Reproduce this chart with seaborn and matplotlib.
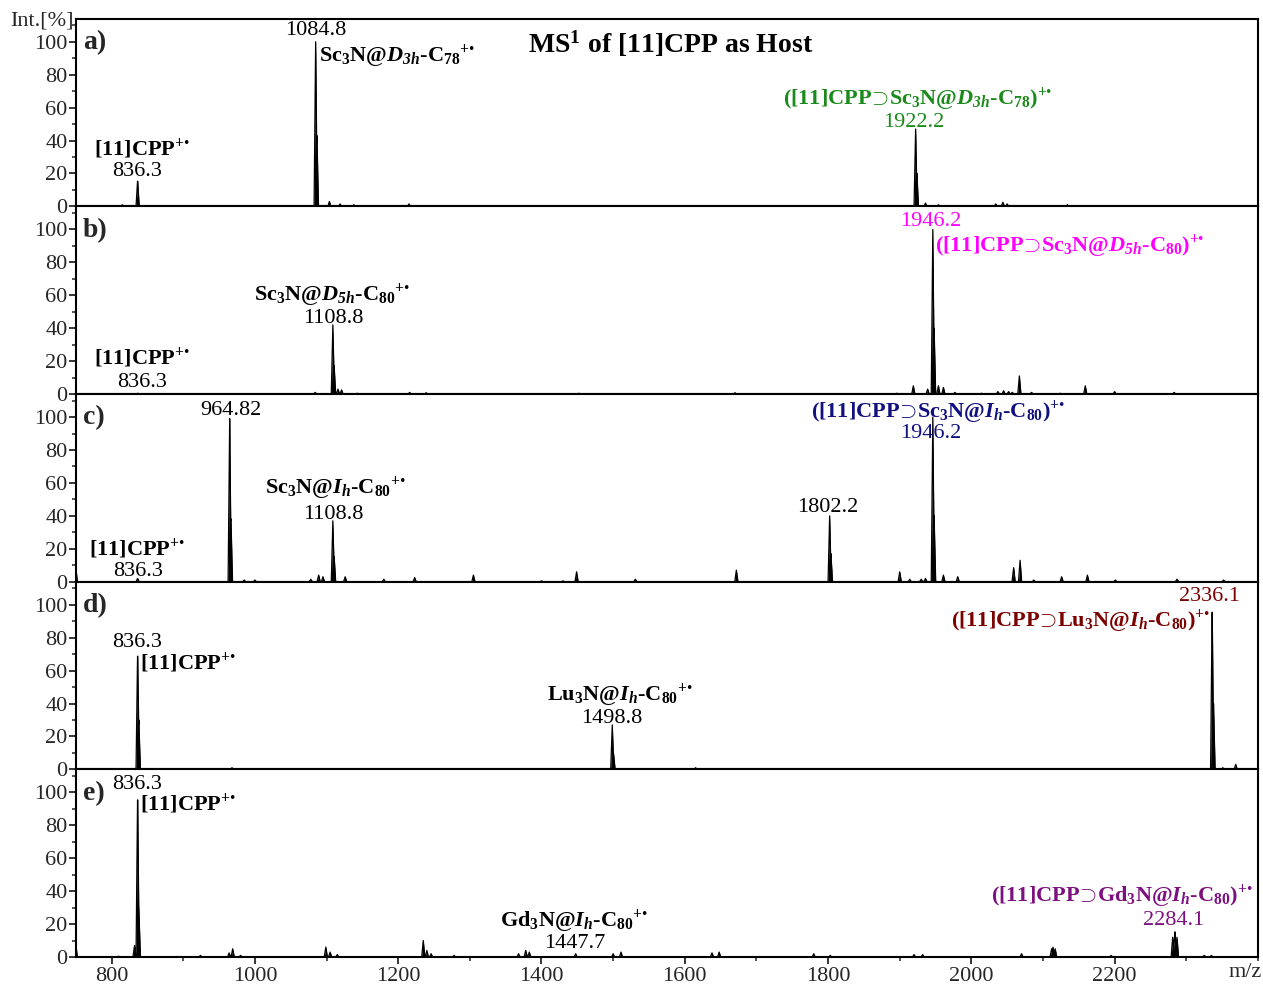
import numpy as np
import pandas as pd
import matplotlib
matplotlib.use("Agg")
import matplotlib.pyplot as plt
import seaborn as sns
from matplotlib.ticker import MultipleLocator

# ---------------- data (m/z, relative intensity %) ----------------
a_mz = [815, 836.3, 964, 1084.8, 1086.5, 1104, 1119, 1138, 1215, 1922.2, 1924, 1936, 1954, 1971, 2034, 2044, 2050, 2134]
a_int = [1, 16, 0.5, 100, 45, 3, 1.5, 1, 1.5, 47, 20, 2, 1, 0.5, 1.5, 2.5, 1.5, 1]

b_mz = [836.3, 1084, 1108.8, 1110.5, 1116, 1121, 1143, 1216, 1239, 1452, 1670, 1896, 1919, 1939,
        1946.2, 1948, 1954, 1961, 1977, 2014, 2037, 2045, 2052, 2057, 2067, 2084, 2124, 2159, 2200, 2283]
b_int = [0.5, 1, 42, 18, 3, 2.5, 0.5, 1, 0.8, 0.5, 0.8, 0.5, 5, 3,
         100, 40, 5, 4, 1, 0.5, 1.5, 2, 1.5, 1, 11, 1, 0.5, 5, 1.5, 1]

c_mz = [750, 836.3, 964.82, 966.5, 985, 1000, 1078, 1089, 1095, 1108.8, 1110.5, 1126, 1180, 1223, 1305,
        1400, 1430, 1449, 1531, 1672, 1802.2, 1804, 1900, 1914, 1930, 1936, 1946.2, 1948, 1961, 1981,
        2059, 2068, 2087, 2126, 2162, 2201, 2287, 2352]
c_int = [9, 2, 100, 40, 1, 1, 1.5, 4, 3, 37, 16, 3, 1.5, 2.5, 4,
         0.5, 0.5, 6, 1.5, 7, 40, 17, 6, 1.5, 1.5, 2, 100, 40, 4, 3,
         8.5, 13, 1, 3, 4, 1, 1.5, 1]

d_mz = [820, 836.3, 838, 854, 945, 968, 1110, 1498.8, 1500.5, 1615, 1644, 2336.1, 2338, 2351, 2369]
d_int = [0.5, 72, 30, 0.5, 0.5, 1, 0.5, 27, 10, 1, 0.5, 100, 40, 1, 3]

e_mz = [750, 810, 832, 836.3, 838, 924, 964, 969, 980, 1099, 1105, 1115, 1235, 1240, 1246, 1278,
        1368, 1378, 1383, 1447.7, 1500, 1511, 1638, 1648, 1780, 1803, 1920, 1932, 2070, 2112, 2114,
        2117, 2195, 2281, 2284.1, 2287, 2325, 2335]
e_int = [8, 0.5, 7, 100, 30, 1, 2.5, 5, 1, 6, 3, 1.5, 10, 4, 2, 1,
         2, 4, 3, 2, 2, 3, 2.5, 3, 2, 1, 1.5, 1.5, 2, 5, 6,
         5, 1, 12, 16, 12, 1, 1]

panels = ["a)", "b)", "c)", "d)", "e)"]
spectra = [(a_mz, a_int), (b_mz, b_int), (c_mz, c_int), (d_mz, d_int), (e_mz, e_int)]

x_ticks = [800, 1000, 1200, 1400, 1600, 1800, 2000, 2200]
y_ticks = [0, 20, 40, 60, 80, 100]

# ---------------- style ----------------
sns.set_theme(style="ticks")
plt.rcParams.update({
    "font.family": ["Liberation Serif", "DejaVu Serif"],
    "mathtext.fontset": "custom",
    "mathtext.rm": "Liberation Serif",
    "mathtext.bf": "Liberation Serif:bold",
    "mathtext.it": "Liberation Serif:italic",
    "mathtext.bfit": "Liberation Serif:bold:italic",
    "mathtext.default": "bf",
    "axes.linewidth": 1.5,
    "xtick.major.width": 1.3, "ytick.major.width": 1.3,
    "xtick.minor.width": 1.1, "ytick.minor.width": 1.1,
    "xtick.major.size": 5, "ytick.major.size": 5,
    "xtick.minor.size": 3, "ytick.minor.size": 3,
    "xtick.labelsize": 16, "ytick.labelsize": 16,
})

XMIN, XMAX = 750, 2400
HW = 2.2  # peak half width (m/z)
grid = np.arange(XMIN, XMAX + 0.1, 0.2)


def profile(mz, inten):
    y = np.zeros_like(grid)
    for m, h in zip(mz, inten):
        tri = h * np.clip(1 - np.abs(grid - m) / HW, 0, None)
        y = np.maximum(y, tri)
    return y


fig, axes = plt.subplots(5, 1, figsize=(12.63, 9.85), dpi=100, sharex=True)
fig.subplots_adjust(left=0.060, right=0.996, top=0.981, bottom=0.0284, hspace=0)

for ax, lab, (mz, inten) in zip(axes, panels, spectra):
    y = profile(mz, inten)
    df = pd.DataFrame({"mz": grid, "int": y})
    sns.lineplot(data=df, x="mz", y="int", ax=ax, color="black", lw=0.9,
                 estimator=None, sort=False)
    ax.fill_between(df["mz"], 0, df["int"], color="black", lw=0)
    ax.set_xlim(XMIN, XMAX)
    ax.set_ylim(0, 114)
    ax.set_yticks(y_ticks)
    ax.yaxis.set_minor_locator(MultipleLocator(10))
    ax.set_xlabel("")
    ax.set_ylabel("")
    ax.tick_params(axis="y", which="both", direction="out", pad=1)
    for s in ax.spines.values():
        s.set_visible(True)
        s.set_color("black")
        s.set_linewidth(1.5)
    ax.text(0.006, 0.94, lab, transform=ax.transAxes, ha="left", va="top",
            fontsize=20, fontweight="bold")
    if ax is not axes[-1]:
        ax.tick_params(axis="x", which="both", bottom=False, labelbottom=False)

axes[-1].set_xticks(x_ticks)
axes[-1].xaxis.set_minor_locator(MultipleLocator(100))
axes[-1].tick_params(axis="x", which="both", direction="out", pad=2)

NUM = 16
LAB = 16
GREEN, MAG, NAVY, DRED, PURP = "#1a8a1a", "#ff00ff", "#10107e", "#7b0000", "#7d1080"


def num(ax, x, y, s, color="black", ha="center"):
    ax.text(x, y, s, ha=ha, va="center", fontsize=NUM, color=color)


def lab(ax, x, y, s, color="black", ha="center"):
    ax.text(x, y, s, ha=ha, va="center", fontsize=LAB, color=color, fontweight="bold")


SUP = r"$^{+\mathrm{•}}$"
SUPSET = r"$\!\supset\!$"
cpp = r"[11]CPP" + SUP
sc78 = r"Sc$_{3}$N@$\mathbfit{D}_{\mathbfit{3h}}$-C$_{78}$" + SUP
sc80d = r"Sc$_{3}$N@$\mathbfit{D}_{\mathbfit{5h}}$-C$_{80}$" + SUP
sc80i = r"Sc$_{3}$N@$\mathbfit{I}_{\mathbfit{h}}$-C$_{80}$" + SUP
lu80 = r"Lu$_{3}$N@$\mathbfit{I}_{\mathbfit{h}}$-C$_{80}$" + SUP
gd80 = r"Gd$_{3}$N@$\mathbfit{I}_{\mathbfit{h}}$-C$_{80}$" + SUP
h_a = r"([11]CPP" + SUPSET + r"Sc$_{3}$N@$\mathbfit{D}_{\mathbfit{3h}}$-C$_{78}$)" + SUP
h_b = r"([11]CPP" + SUPSET + r"Sc$_{3}$N@$\mathbfit{D}_{\mathbfit{5h}}$-C$_{80}$)" + SUP
h_c = r"([11]CPP" + SUPSET + r"Sc$_{3}$N@$\mathbfit{I}_{\mathbfit{h}}$-C$_{80}$)" + SUP
h_d = r"([11]CPP" + SUPSET + r"Lu$_{3}$N@$\mathbfit{I}_{\mathbfit{h}}$-C$_{80}$)" + SUP
h_e = r"([11]CPP" + SUPSET + r"Gd$_{3}$N@$\mathbfit{I}_{\mathbfit{h}}$-C$_{80}$)" + SUP

# panel a
ax = axes[0]
lab(ax, 1580, 99, r"MS$^{1}$ of [11]CPP as Host")
ax.texts[-1].set_fontsize(20)
num(ax, 1085, 107, "1084.8")
lab(ax, 1089, 91, sc78, ha="left")
lab(ax, 843, 35, cpp)
num(ax, 836, 21, "836.3")
lab(ax, 1925, 65, h_a, color=GREEN)
num(ax, 1919, 51, "1922.2", color=GREEN)

# panel b
ax = axes[1]
num(ax, 1943, 105, "1946.2", color=MAG)
lab(ax, 1949, 90, h_b, color=MAG, ha="left")
lab(ax, 1108, 60, sc80d)
num(ax, 1110, 46, "1108.8")
lab(ax, 842, 22, cpp)
num(ax, 842, 7, "836.3")

# panel c
ax = axes[2]
num(ax, 966, 104, "964.82")
lab(ax, 1113, 57, sc80i)
num(ax, 1110, 41, "1108.8")
lab(ax, 836, 20, cpp)
num(ax, 837, 6, "836.3")
num(ax, 1800, 45, "1802.2")
lab(ax, 1953, 103, h_c, color=NAVY)
num(ax, 1943, 90, "1946.2", color=NAVY)

# panel d
ax = axes[3]
num(ax, 835, 77, "836.3")
lab(ax, 839, 65, cpp, ha="left")
lab(ax, 1510, 45, lu80)
num(ax, 1498, 31, "1498.8")
num(ax, 2333, 105, "2336.1", color=DRED)
lab(ax, 2334, 90, h_d, color=DRED, ha="right")

# panel e
ax = axes[4]
num(ax, 836, 105, "836.3")
lab(ax, 839, 93, cpp, ha="left")
lab(ax, 1445, 22, gd80)
num(ax, 1447, 8, "1447.7")
lab(ax, 2393, 37, h_e, color=PURP, ha="right")
num(ax, 2282, 22, "2284.1", color=PURP)

fig.text(0.008, 0.979, "Int.[%]", ha="left", va="center", fontsize=16)
fig.text(0.986, 0.013, "m/z", ha="center", va="center", fontsize=16)

fig.savefig("out.png", dpi=100)
